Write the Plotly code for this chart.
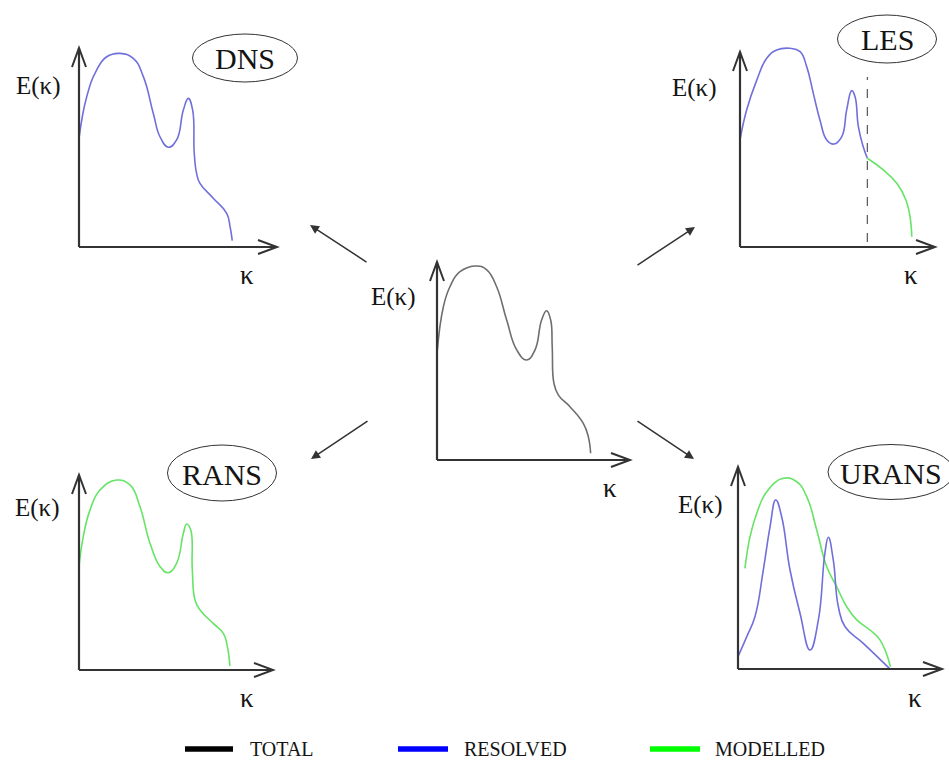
import plotly.graph_objects as go

FIG_W, FIG_H = 949, 760

# ---------------- data: (kappa, E) in axis units (axis arrow tips at 10) ----------------
# DNS panel - everything resolved
dns_k = [0.0, 0.39, 0.89, 1.40, 2.07, 2.74, 3.25, 3.75, 4.09, 4.51, 4.93, 5.27, 5.52, 5.74, 5.82, 5.94, 6.11, 6.78, 7.46, 7.63, 7.74]
dns_E = [5.46, 7.55, 8.89, 9.56, 9.73, 9.48, 8.56, 6.72, 5.54, 5.01, 5.38, 6.88, 7.47, 6.88, 4.71, 3.70, 3.20, 2.45, 1.69, 1.02, 0.32]

# Centre panel - total spectrum
tot_k = [0.0, 0.33, 0.67, 1.19, 2.06, 2.58, 3.09, 3.61, 4.13, 4.65, 5.08, 5.42, 5.68, 5.89, 5.97, 6.06, 6.29, 6.89, 7.58, 7.84, 7.96]
tot_E = [5.39, 7.74, 8.75, 9.51, 9.80, 9.60, 8.75, 7.07, 5.56, 5.05, 5.56, 7.07, 7.54, 7.07, 5.72, 3.87, 3.28, 2.69, 1.85, 1.18, 0.34]

# RANS panel - everything modelled
rans_k = [0.0, 0.22, 0.57, 1.08, 1.94, 2.63, 3.14, 3.66, 4.18, 4.60, 5.03, 5.38, 5.55, 5.76, 5.84, 5.98, 6.24, 6.92, 7.44, 7.65, 7.78]
rans_E = [5.30, 6.84, 8.21, 9.23, 9.74, 9.49, 8.38, 6.50, 5.30, 4.99, 5.47, 7.01, 7.49, 7.18, 5.13, 3.59, 3.08, 2.39, 1.88, 1.19, 0.21]

# LES panel - resolved up to the cut-off, modelled beyond
les_res_k = [0.0, 0.34, 0.86, 1.37, 1.88, 2.56, 3.08, 3.42, 3.76, 4.10, 4.45, 4.82, 5.22, 5.47, 5.73, 5.90, 6.07, 6.32, 6.53]
les_res_E = [5.49, 7.03, 8.56, 9.68, 10.10, 10.19, 10.02, 9.25, 7.88, 6.51, 5.49, 5.28, 5.66, 7.03, 8.02, 7.71, 6.17, 5.14, 4.55]
les_mod_k = [6.53, 7.35, 8.04, 8.51, 8.72, 8.81]
les_mod_E = [4.55, 3.95, 3.27, 2.41, 1.55, 0.53]
les_cut_k = [6.53, 6.53]
les_cut_E = [0.26, 8.72]

# URANS panel - modelled envelope and resolved part
urans_mod_k = [0.34, 0.59, 0.92, 1.41, 2.22, 2.88, 3.37, 3.86, 4.35, 4.84, 5.33, 5.82, 6.47, 6.96, 7.48]
urans_mod_E = [4.98, 6.55, 7.71, 8.78, 9.44, 9.27, 8.53, 6.88, 5.06, 4.07, 3.08, 2.43, 1.93, 1.44, 0.11]
urans_res_k = [0.0, 0.43, 0.83, 1.24, 1.57, 1.85, 2.14, 2.55, 3.04, 3.53, 3.94, 4.26, 4.43, 4.67, 4.92, 5.25, 6.14, 7.42]
urans_res_E = [0.61, 1.60, 2.59, 4.90, 7.04, 8.37, 7.54, 4.90, 2.76, 0.94, 2.43, 5.73, 6.52, 5.40, 3.08, 2.09, 1.27, 0.03]

panel_titles = ["DNS", "LES", "RANS", "URANS"]
legend_labels = ["TOTAL", "RESOLVED", "MODELLED"]

# ---------------- styles / layout geometry ----------------
C_TOT = "#6e6e6e"
C_RES = "#7070dc"
C_MOD = "#66e466"
C_AXIS = "#333333"
TXT = "#141414"
FONT = "'Liberation Serif', 'Times New Roman', 'DejaVu Serif', serif"

# panel geometry in pixels: origin (ox, oy) and arrow tips (xt, yt)
PANELS = {
    "dns":   dict(ox=79,  oy=247, xt=277, yt=48),
    "les":   dict(ox=740, oy=247, xt=935, yt=52),
    "tot":   dict(ox=437, oy=460, xt=630, yt=262),
    "rans":  dict(ox=79,  oy=670, xt=273, yt=475),
    "urans": dict(ox=738, oy=669, xt=942, yt=467),
}
ORDER = ["dns", "les", "tot", "rans", "urans"]
LO, HI = -0.6, 11.0

fig = go.Figure()
layout = dict(
    width=FIG_W, height=FIG_H, margin=dict(l=0, r=0, t=0, b=0),
    paper_bgcolor="white", plot_bgcolor="rgba(0,0,0,0)", showlegend=False,
    font=dict(family=FONT, color=TXT),
)
shapes, annotations = [], []
axid = {}

for i, key in enumerate(ORDER, start=1):
    g = PANELS[key]
    ux = (g["xt"] - g["ox"]) / 10.0
    uy = (g["oy"] - g["yt"]) / 10.0
    xlo = max(LO, -g["ox"] / ux)
    xhi = min(HI, (FIG_W - g["ox"]) / ux)
    ylo = max(LO, -(FIG_H - g["oy"]) / uy)
    yhi = min(HI, g["oy"] / uy)
    xd = [max(0.0, (g["ox"] + xlo * ux) / FIG_W), min(1.0, (g["ox"] + xhi * ux) / FIG_W)]
    yd = [max(0.0, 1 - (g["oy"] - ylo * uy) / FIG_H), min(1.0, 1 - (g["oy"] - yhi * uy) / FIG_H)]
    sx = "" if i == 1 else str(i)
    layout["xaxis" + sx] = dict(domain=xd, range=[xlo, xhi], visible=False, anchor="y" + sx, fixedrange=True)
    layout["yaxis" + sx] = dict(domain=yd, range=[ylo, yhi], visible=False, anchor="x" + sx, fixedrange=True)
    xr, yr = "x" + sx, "y" + sx
    axid[key] = (xr, yr)
    # axes with open arrow heads
    shapes.append(dict(type="line", xref=xr, yref=yr, x0=0, y0=0, x1=10, y1=0,
                       line=dict(color=C_AXIS, width=2.2)))
    shapes.append(dict(type="line", xref=xr, yref=yr, x0=0, y0=0, x1=0, y1=10,
                       line=dict(color=C_AXIS, width=2.2)))
    shapes.append(dict(type="path", xref=xr, yref=yr, xsizemode="pixel", ysizemode="pixel",
                       xanchor=10, yanchor=0, path="M -19,7 L 0,0 L -19,-7",
                       line=dict(color=C_AXIS, width=2)))
    shapes.append(dict(type="path", xref=xr, yref=yr, xsizemode="pixel", ysizemode="pixel",
                       xanchor=0, yanchor=10, path="M -7,-19 L 0,0 L 7,-19",
                       line=dict(color=C_AXIS, width=2)))


def curve(key, k, E, color, dash="solid", width=1.6, shape="spline"):
    xr, yr = axid[key]
    line = dict(color=color, width=width, dash=dash, shape=shape)
    if shape == "spline":
        line["smoothing"] = 1.3
    fig.add_trace(go.Scatter(x=k, y=E, mode="lines", xaxis=xr, yaxis=yr,
                             line=line, hoverinfo="skip"))


curve("dns", dns_k, dns_E, C_RES)
curve("tot", tot_k, tot_E, C_TOT)
curve("rans", rans_k, rans_E, C_MOD)
curve("les", les_cut_k, les_cut_E, "#555555", dash="dash", width=1.2, shape="linear")
curve("les", les_res_k, les_res_E, C_RES)
curve("les", les_mod_k, les_mod_E, C_MOD)
curve("urans", urans_mod_k, urans_mod_E, C_MOD)
curve("urans", urans_res_k, urans_res_E, C_RES)


def px(x, y):
    return x / FIG_W, 1 - y / FIG_H


# axis labels E(κ) and κ (pixel centres)
ylab_pos = {"dns": (38, 86), "les": (694, 88), "tot": (393, 297), "rans": (37, 508), "urans": (700, 505)}
xlab_pos = {"dns": (247, 275), "les": (911, 275), "tot": (610, 488), "rans": (247, 698), "urans": (915, 698)}
for key in ORDER:
    x, y = px(*ylab_pos[key])
    annotations.append(dict(x=x, y=y, xref="paper", yref="paper", text="E(κ)", showarrow=False,
                            xanchor="center", yanchor="middle", font=dict(family=FONT, size=25, color=TXT)))
    x, y = px(*xlab_pos[key])
    annotations.append(dict(x=x, y=y, xref="paper", yref="paper", text="κ", showarrow=False,
                            xanchor="center", yanchor="middle", font=dict(family=FONT, size=27, color=TXT)))

# panel titles in ellipses: centre and size in pixels
ellipses = [(245, 58, 105, 48), (887, 39, 99, 48), (222, 473, 109, 56), (891, 472, 126, 55)]
for title, (cx, cy, w, h) in zip(panel_titles, ellipses):
    x0, y1 = px(cx - w / 2, cy - h / 2)
    x1, y0 = px(cx + w / 2, cy + h / 2)
    shapes.append(dict(type="circle", xref="paper", yref="paper", x0=x0, x1=x1, y0=y0, y1=y1,
                       line=dict(color="#333333", width=1)))
    x, y = px(cx, cy + 1)
    annotations.append(dict(x=x, y=y, xref="paper", yref="paper", text=title, showarrow=False,
                            xanchor="center", yanchor="middle", font=dict(family=FONT, size=30, color=TXT)))

# connecting arrows: (tip, tail) in pixels
arrows = [((310, 225), (368, 263)), ((695, 227), (636, 266)),
          ((311, 459), (369, 420)), ((694, 459), (636, 420))]
for (tx, ty), (sx_, sy_) in arrows:
    x, y = px(tx, ty)
    annotations.append(dict(x=x, y=y, xref="paper", yref="paper", text="", showarrow=True,
                            ax=sx_ - tx, ay=sy_ - ty, arrowhead=2, arrowsize=1.2, arrowwidth=1.5,
                            arrowcolor="#333333", standoff=0, startstandoff=0))

# custom legend
leg_colors = ["#000000", "#0000ff", "#00ff00"]
leg_line_x = [(185, 233), (398, 448), (650, 700)]
leg_text_x = [248, 462, 713]
LEG_Y = 749
for lab, col, (a, b), tx in zip(legend_labels, leg_colors, leg_line_x, leg_text_x):
    x0, y0 = px(a, LEG_Y)
    x1, _ = px(b, LEG_Y)
    shapes.append(dict(type="line", xref="paper", yref="paper", x0=x0, x1=x1, y0=y0, y1=y0,
                       line=dict(color=col, width=5.5)))
    x, y = px(tx, LEG_Y)
    annotations.append(dict(x=x, y=y, xref="paper", yref="paper", text=lab, showarrow=False,
                            xanchor="left", yanchor="middle", font=dict(family=FONT, size=20, color=TXT)))

layout["shapes"] = shapes
layout["annotations"] = annotations
fig.update_layout(**layout)
fig.write_html("out.html")
